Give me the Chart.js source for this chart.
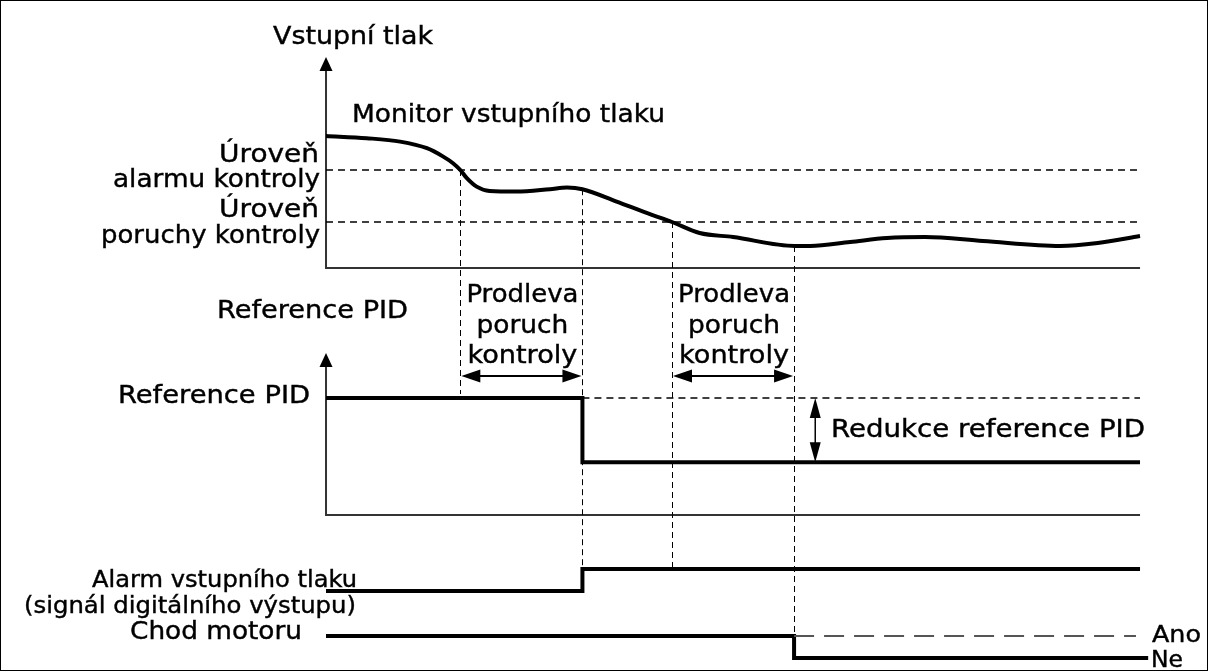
<!DOCTYPE html>
<html>
<head>
<meta charset="utf-8">
<script src="https://cdn.jsdelivr.net/npm/chart.js@4.4.1/dist/chart.umd.min.js"></script>
<style>
  html, body { margin: 0; padding: 0; background: #fff; }
  #wrap { width: 1208px; height: 671px; }
</style>
</head>
<body>
<div id="wrap"><canvas id="diagram"></canvas></div>
<script>
// time axis: 0 = start of the panels, 100 = end of the panels
const curveTime = [0, 5, 9.1, 12.4, 14.4, 15.6, 16.5, 17.3, 18.5, 20.1, 23.4, 27.5, 29.6, 31.5, 35.7, 39.8, 42.5, 45.9, 50, 57.6, 59.5, 64.4, 68.9, 73.6, 80.7, 90.2, 94.8, 100];
const curvePressure = [6.6, 6.49, 6.32, 5.99, 5.57, 5.24, 4.9, 4.49, 4.07, 3.85, 3.82, 3.94, 4.02, 3.94, 3.32, 2.69, 2.3, 1.75, 1.55, 1.1, 1.1, 1.3, 1.5, 1.55, 1.35, 1.1, 1.25, 1.6];
const alarmLevel = 4.9;
const faultLevel = 2.3;
// alarm level crossed, alarm on, fault level crossed, motor stopped
const eventTime = [16.5, 31.5, 42.5, 57.5];
const endTime = 100;

const refTime = [0, 31.5, 100];
const refValue = [100, 45, 45];
const alarmTime = [0, 31.5, 100];
const alarmState = [0, 1, 1];
const motorTime = [0, 57.5, 101];
const motorState = [1, 0, 0];

const FONT = "'DejaVu Sans', Verdana, sans-serif";

function pts(xs, ys) {
    return xs.map((x, i) => ({x: x, y: ys[i]}));
}

function line(label, data, axis, opts) {
    return Object.assign({
        label: label,
        data: data,
        yAxisID: axis,
        borderColor: '#000',
        borderWidth: 4,
        pointRadius: 0,
        fill: false,
        tension: 0
    }, opts || {});
}

function arrowHead(ctx, x, y, dx, dy, len, half) {
    // tip at x,y pointing along dx,dy
    ctx.beginPath();
    ctx.moveTo(x, y);
    ctx.lineTo(x - dx * len - dy * half, y - dy * len + dx * half);
    ctx.lineTo(x - dx * len + dy * half, y - dy * len - dx * half);
    ctx.closePath();
    ctx.fill();
}

// text stretched horizontally to the width it has in the drawing
function text(ctx, str, x, y, align, size, width) {
    ctx.font = size + 'px ' + FONT;
    const k = width ? width / ctx.measureText(str).width : 1;
    ctx.save();
    ctx.translate(x, y);
    ctx.scale(k, 1);
    ctx.textAlign = align;
    ctx.textBaseline = 'alphabetic';
    ctx.fillStyle = '#000';
    ctx.strokeStyle = '#000';
    ctx.lineWidth = 0.4;
    ctx.fillText(str, 0, 0);
    ctx.strokeText(str, 0, 0);
    ctx.restore();
}

const decorations = {
    id: 'decorations',
    beforeDatasetsDraw(chart) {
        const ctx = chart.ctx;
        const sx = chart.scales.x, yP = chart.scales.yP, yR = chart.scales.yR;
        const yA = chart.scales.yA, yM = chart.scales.yM;
        const x0 = sx.getPixelForValue(0), x1 = sx.getPixelForValue(endTime);
        ctx.save();
        ctx.fillStyle = '#fff';
        ctx.fillRect(0, 0, chart.width, chart.height);

        // panel axes
        ctx.strokeStyle = '#333';
        ctx.fillStyle = '#000';
        ctx.lineWidth = 2;
        [[yP, 10.55], [yR, 138.5]].forEach(([ys, top]) => {
            const b = ys.getPixelForValue(0), t = ys.getPixelForValue(top);
            ctx.beginPath();
            ctx.moveTo(x0, t + 8);
            ctx.lineTo(x0, b);
            ctx.lineTo(x1, b);
            ctx.stroke();
            arrowHead(ctx, x0, t, 0, -1, 14, 6.5);
        });

        // vertical guides
        ctx.strokeStyle = '#000';
        ctx.lineWidth = 1;
        ctx.setLineDash([6, 4]);
        const guides = [
            [eventTime[0], yP.getPixelForValue(alarmLevel), yR.getPixelForValue(refValue[0]) - 4],
            [eventTime[1], yP.getPixelForValue(3.94), yA.getPixelForValue(1)],
            [eventTime[2], yP.getPixelForValue(faultLevel), yA.getPixelForValue(1)],
            [eventTime[3], yP.getPixelForValue(1.1), yM.getPixelForValue(0)]
        ];
        guides.forEach(([t, a, b]) => {
            const x = Math.round(sx.getPixelForValue(t)) + 0.5;
            ctx.beginPath();
            ctx.moveTo(x, a);
            ctx.lineTo(x, b);
            ctx.stroke();
        });
        ctx.setLineDash([]);
        ctx.restore();
    },
    afterDatasetsDraw(chart) {
        const ctx = chart.ctx;
        const sx = chart.scales.x, yP = chart.scales.yP, yR = chart.scales.yR;
        const yA = chart.scales.yA, yM = chart.scales.yM;
        const x0 = sx.getPixelForValue(0);
        ctx.save();

        // delay arrows
        ctx.strokeStyle = '#000';
        ctx.fillStyle = '#000';
        ctx.lineWidth = 2;
        const ay = 376;
        [[eventTime[0], eventTime[1]], [eventTime[2], eventTime[3]]].forEach(([a, b]) => {
            const xa = sx.getPixelForValue(a) + 1, xb = sx.getPixelForValue(b) - 1;
            ctx.beginPath();
            ctx.moveTo(xa + 10, ay);
            ctx.lineTo(xb - 10, ay);
            ctx.stroke();
            arrowHead(ctx, xa, ay, -1, 0, 19, 6.5);
            arrowHead(ctx, xb, ay, 1, 0, 19, 6.5);
            const cx = (xa + xb) / 2 + 1;
            text(ctx, 'Prodleva', cx, 302, 'center', 25, 112);
            text(ctx, 'poruch', cx, 333, 'center', 25, 92);
            text(ctx, 'kontroly', cx, 363, 'center', 25, 110);
        });

        // reduction arrow
        const rx = sx.getPixelForValue(60.1);
        const r1 = yR.getPixelForValue(refValue[0]), r2 = yR.getPixelForValue(refValue[1]);
        ctx.lineWidth = 1.5;
        ctx.beginPath();
        ctx.moveTo(rx, r1 + 10);
        ctx.lineTo(rx, r2 - 10);
        ctx.stroke();
        arrowHead(ctx, rx, r1, 0, -1, 20, 5.5);
        arrowHead(ctx, rx, r2, 0, 1, 20, 5.5);
        text(ctx, 'Redukce reference PID', 831, 437, 'left', 25, 314);

        // labels
        text(ctx, 'Vstupní tlak', x0 - 53, 44, 'left', 24, 160);
        text(ctx, 'Monitor vstupního tlaku', x0 + 26, 122, 'left', 25, 313);
        text(ctx, 'Úroveň', x0 - 7, 162, 'right', 25, 100);
        text(ctx, 'alarmu kontroly', x0 - 6, 187, 'right', 25, 207);
        text(ctx, 'Úroveň', x0 - 7, 217, 'right', 25, 100);
        text(ctx, 'poruchy kontroly', x0 - 6, 243, 'right', 25, 219);
        text(ctx, 'Reference PID', 217, 318, 'left', 25, 191);
        text(ctx, 'Reference PID', 310, 403, 'right', 25, 192);
        text(ctx, 'Alarm vstupního tlaku', 357, 587, 'right', 23, 265);
        text(ctx, '(signál digitálního výstupu)', 356, 613, 'right', 23, 332);
        text(ctx, 'Chod motoru', 302, 639, 'right', 24, 172);
        text(ctx, 'Ano', 1152, 642, 'left', 23, 49);
        text(ctx, 'Ne', 1151, 667, 'left', 23, 32);

        // frame
        ctx.strokeStyle = '#000';
        ctx.lineWidth = 1;
        ctx.strokeRect(0.5, 0.5, chart.width - 1, chart.height - 1);
        ctx.restore();
    }
};

const hidden = {display: false};
const thinDash = {borderWidth: 1.4, borderDash: [7, 5]};

new Chart(document.getElementById('diagram'), {
    type: 'line',
    data: {
        datasets: [
            line('Úroveň alarmu', pts([0, endTime], [alarmLevel, alarmLevel]), 'yP', thinDash),
            line('Úroveň poruchy', pts([0, endTime], [faultLevel, faultLevel]), 'yP', thinDash),
            line('Monitor vstupního tlaku', pts(curveTime, curvePressure), 'yP', {cubicInterpolationMode: 'monotone'}),
            line('Reference PID (původní)', pts([eventTime[1], endTime], [refValue[0], refValue[0]]), 'yR', thinDash),
            line('Reference PID', pts(refTime, refValue), 'yR', {stepped: 'before'}),
            line('Alarm vstupního tlaku', pts(alarmTime, alarmState), 'yA', {stepped: 'before'}),
            line('Ano', pts([eventTime[3], endTime - 0.5], [1, 1]), 'yM', {borderWidth: 2, borderColor: '#555', borderDash: [20, 10]}),
            line('Chod motoru', pts(motorTime, motorState), 'yM', {stepped: 'before'})
        ]
    },
    options: {
        responsive: true,
        maintainAspectRatio: false,
        animation: false,
        layout: {padding: 0},
        plugins: {legend: hidden, tooltip: {enabled: false}},
        events: [],
        scales: {
            x: {type: 'linear', min: -40.05, max: 108.35, display: false},
            yP: {type: 'linear', min: -20.15, max: 13.4, display: false},
            yR: {type: 'linear', min: -133.33, max: 440.17, display: false},
            yA: {type: 'linear', min: -3.64, max: 26.86, display: false},
            yM: {type: 'linear', min: -0.59, max: 29.91, display: false}
        }
    },
    plugins: [decorations]
});
</script>
</body>
</html>
